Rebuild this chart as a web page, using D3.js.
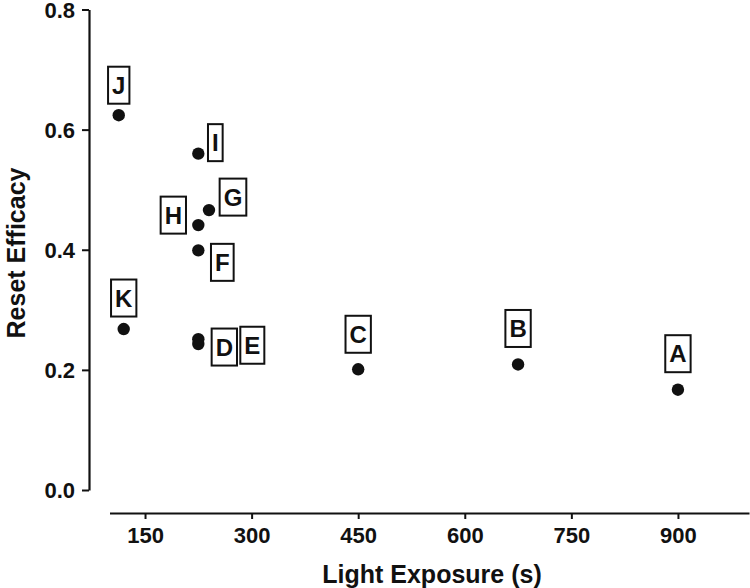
<!DOCTYPE html>
<html>
<head>
<meta charset="utf-8">
<script src="https://cdn.jsdelivr.net/npm/d3@7"></script>
<style>
  html, body { margin: 0; padding: 0; background: #fff; }
  svg { display: block; font-family: "Liberation Sans", Arial, Helvetica, sans-serif; }
</style>
</head>
<body>
<svg id="chart" width="750" height="588"></svg>
<script>
// ---- data ----
const labels   = ["A", "B", "C", "D", "E", "F", "G", "H", "I", "J", "K"];
const exposure = [900, 675, 450, 225, 225, 225, 240, 225, 225, 113, 120];
const efficacy = [0.167, 0.209, 0.201, 0.243, 0.251, 0.399, 0.466, 0.441, 0.560, 0.624, 0.268];
const xTicks = [150, 300, 450, 600, 750, 900];
const yTicks = [0.0, 0.2, 0.4, 0.6, 0.8];
const xTitle = "Light Exposure (s)";
const yTitle = "Reset Efficacy";
// label box offsets (pixels) relative to each point
const labelDx = [0, 0, 0, 26, 54, 24, 24, -25, 17, 0, 0];
const labelDy = [-36, -36, -35, 3, 6, 12, -13, -10, -11, -30, -31];

const points = labels.map((l, i) => ({ label: l, x: exposure[i], y: efficacy[i], dx: labelDx[i], dy: labelDy[i] }));

const svg = d3.select("#chart");
const ink = "#111";

const x = d3.scaleLinear().domain([100, 1000]).range([109.5, 749]);
const y = d3.scaleLinear().domain([0, 0.8]).range([490, 9.5]);

// y axis
const gy = svg.append("g")
  .attr("transform", "translate(89,0)")
  .call(d3.axisLeft(y).tickValues(yTicks).tickFormat(d3.format(".1f")).tickSize(7).tickSizeOuter(0).tickPadding(7));
// x axis
const gx = svg.append("g")
  .attr("transform", "translate(0,513)")
  .call(d3.axisBottom(x).tickValues(xTicks).tickFormat(d3.format("d")).tickSize(6).tickSizeOuter(0).tickPadding(8));

[gx, gy].forEach(g => {
  g.attr("font-size", 22).attr("font-family", "'Liberation Sans', Arial, sans-serif");
  g.select(".domain").attr("stroke", ink).attr("stroke-width", 2.2);
  g.selectAll(".tick line").attr("stroke", ink).attr("stroke-width", 2);
  g.selectAll(".tick text").attr("fill", ink).attr("font-weight", "bold")
    .style("font-size", "22px");
});
gy.selectAll(".tick text").attr("dy", "0.36em");

// titles
svg.append("text")
  .attr("x", 432).attr("y", 583)
  .attr("text-anchor", "middle")
  .style("font-size", "25px").attr("font-weight", "bold").attr("fill", ink)
  .text(xTitle);
svg.append("text")
  .attr("transform", "translate(25,253) rotate(-90)")
  .attr("text-anchor", "middle")
  .style("font-size", "25px").attr("font-weight", "bold").attr("fill", ink)
  .text(yTitle);

// points
svg.append("g").selectAll("circle").data(points).join("circle")
  .attr("cx", d => x(d.x)).attr("cy", d => y(d.y)).attr("r", 6.2).attr("fill", ink);

// labels with boxes
const lg = svg.append("g").selectAll("g").data(points).join("g")
  .attr("transform", d => `translate(${x(d.x) + d.dx},${y(d.y) + d.dy})`);
lg.append("text")
  .attr("text-anchor", "middle")
  .attr("y", 8.6)
  .style("font-size", "24px").attr("font-weight", "bold").attr("fill", ink)
  .text(d => d.label);
lg.each(function() {
  const g = d3.select(this);
  const w = g.select("text").node().getComputedTextLength() + 8;
  const h = 37;
  g.insert("rect", "text")
    .attr("x", -w / 2).attr("y", -h / 2)
    .attr("width", w).attr("height", h)
    .attr("fill", "#fff").attr("stroke", ink).attr("stroke-width", 2);
});
</script>
</body>
</html>
